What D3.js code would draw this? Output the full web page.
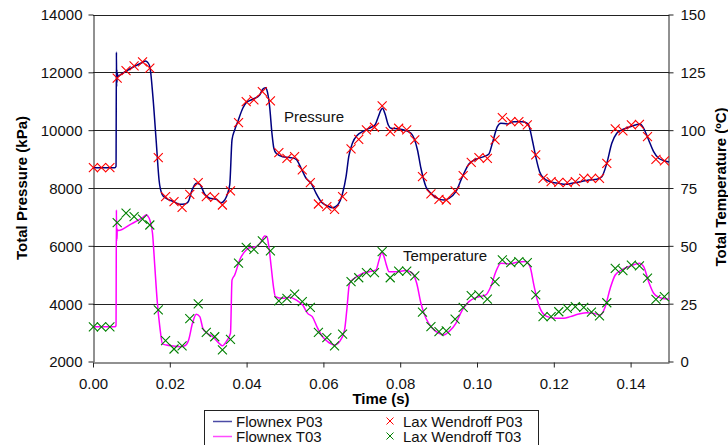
<!DOCTYPE html>
<html>
<head>
<meta charset="utf-8">
<script src="https://cdn.jsdelivr.net/npm/d3@7"></script>
<style>
  body { margin: 0; background: #fff; }
  svg { font-family: "Liberation Sans", Arial, sans-serif; }
</style>
</head>
<body>
<div id="chart"></div>
<script>
// Flownex results, [time (s), value]
var flownexP03 = [[0,8700],[0.0057,8700],[0.0060,8750],[0.0061,12700],[0.00615,11500],[0.0062,12100],[0.00625,11650],[0.0063,12000],[0.0065,11850],[0.0070,11900],[0.0100,12150],[0.0130,12350],[0.0137,12395],[0.0142,12350],[0.0148,12197],[0.0156,11160],[0.0165,9547],[0.0172,8277],[0.0180,7782],[0.0190,7644],[0.0209,7540],[0.0226,7436],[0.0239,7447],[0.0248,7527],[0.0258,7932],[0.0269,8163],[0.0278,8128],[0.0291,7782],[0.0304,7644],[0.0321,7610],[0.0334,7492],[0.0343,7585],[0.0356,8104],[0.0362,9661],[0.0369,10007],[0.0377,10294],[0.0390,10758],[0.0399,10952],[0.0416,11069],[0.0434,11218],[0.0442,11415],[0.0449,11471],[0.0454,11332],[0.0460,10813],[0.0466,9893],[0.0471,9374],[0.0477,9201],[0.0494,9083],[0.0516,9049],[0.0529,8993],[0.0542,8682],[0.0555,8336],[0.0568,8163],[0.0581,7817],[0.0594,7527],[0.0611,7378],[0.0624,7319],[0.0637,7412],[0.0650,7817],[0.0659,8391],[0.0666,9083],[0.0676,9568],[0.0689,9834],[0.0702,9948],[0.0719,10066],[0.0734,10180],[0.0743,10467],[0.0750,10699],[0.0754,10758],[0.0760,10585],[0.0769,10180],[0.0776,10066],[0.0797,10042],[0.0815,9983],[0.0828,9893],[0.0836,9720],[0.0845,9315],[0.0854,8682],[0.0867,8045],[0.0880,7817],[0.0897,7644],[0.0914,7585],[0.0927,7644],[0.0945,7872],[0.0962,8391],[0.0979,8830],[0.0997,8993],[0.1018,9083],[0.1031,9177],[0.1040,9547],[0.1053,10121],[0.1062,10239],[0.1079,10215],[0.1096,10294],[0.1118,10294],[0.1133,10215],[0.1144,9661],[0.1153,9083],[0.1163,8564],[0.1174,8336],[0.1191,8218],[0.1213,8163],[0.1230,8128],[0.1247,8163],[0.1269,8218],[0.1291,8277],[0.1312,8301],[0.1325,8391],[0.1338,8855],[0.1351,9547],[0.1364,9893],[0.1377,10007],[0.1395,10101],[0.1412,10180],[0.1425,10215],[0.1434,10066],[0.1447,9661],[0.1460,9256],[0.1473,9028],[0.1490,8935],[0.1500,8900]];

var flownexT03 = [[0,15],[0.0057,15],[0.0060,15.5],[0.0061,65.5],[0.00615,52],[0.0062,58],[0.00625,53],[0.0063,57],[0.0066,56.6],[0.0100,59.5],[0.0130,62.3],[0.0139,63.4],[0.0143,62.8],[0.0148,61.2],[0.0155,55.4],[0.0161,41],[0.0167,26.6],[0.0174,15],[0.0181,7.6],[0.0191,7.1],[0.0209,6.7],[0.0226,6.4],[0.0239,6.8],[0.0249,9.3],[0.0259,16.5],[0.0269,20.4],[0.0278,19.4],[0.0286,14.4],[0.0295,12.5],[0.0312,10.7],[0.0330,7.6],[0.0337,6.8],[0.0347,8.6],[0.0358,12.2],[0.0362,35.2],[0.0369,37.4],[0.0382,43.9],[0.0399,48.2],[0.0408,49.2],[0.0425,49.6],[0.0438,51.8],[0.0447,54.3],[0.0453,54.0],[0.0458,49.6],[0.0464,41],[0.0470,32.3],[0.0475,28],[0.0494,27.3],[0.0512,27.8],[0.0529,26.6],[0.0546,24.4],[0.0559,20.8],[0.0571,19.4],[0.0585,14.4],[0.0598,10.7],[0.0611,8.6],[0.0620,7.6],[0.0629,7.1],[0.0642,8.6],[0.0655,13.6],[0.0661,22.3],[0.0668,33.8],[0.0681,36],[0.0698,37.8],[0.0719,38.8],[0.0737,39.6],[0.0745,43.9],[0.0752,47.1],[0.0758,45.3],[0.0764,41.7],[0.0771,38.8],[0.0788,38.8],[0.0815,39.3],[0.0832,38.1],[0.0843,33.8],[0.0854,25.2],[0.0867,18.7],[0.0884,14.4],[0.0901,12.2],[0.0914,11.5],[0.0927,12.9],[0.0945,16.5],[0.0962,22.3],[0.0979,25.9],[0.0997,27.6],[0.1005,28],[0.1023,28.8],[0.1036,32.4],[0.1049,38.8],[0.1062,42.5],[0.1083,42.2],[0.1105,42.9],[0.1126,43.2],[0.1138,41],[0.1148,33.1],[0.1157,26.6],[0.1166,22.3],[0.1183,19.4],[0.1205,18.7],[0.1226,18.7],[0.1243,19.4],[0.1265,20.5],[0.1286,21.1],[0.1304,20.8],[0.1321,20.1],[0.1334,23.7],[0.1347,31.7],[0.1360,37.4],[0.1377,39.6],[0.1395,41],[0.1412,42],[0.1423,42.5],[0.1434,41],[0.1447,34.5],[0.1460,29.5],[0.1473,27.8],[0.1494,27],[0.1500,27]];

// Lax Wendroff results
var laxTime = [0.0001,0.0022,0.0044,0.0063,0.0086,0.0107,0.0129,0.0148,0.0170,0.0189,0.0211,0.0232,0.0252,0.0274,0.0295,0.0317,0.0337,0.0358,0.0379,0.0399,0.0419,0.0441,0.0462,0.0484,0.0505,0.0525,0.0545,0.0566,0.0587,0.0609,0.0629,0.0650,0.0672,0.0692,0.0712,0.0733,0.0753,0.0774,0.0796,0.0817,0.0838,0.0858,0.0880,0.0901,0.0920,0.0943,0.0964,0.0985,0.1005,0.1027,0.1047,0.1066,0.1088,0.1109,0.1131,0.1153,0.1172,0.1193,0.1213,0.1235,0.1256,0.1278,0.1298,0.1319,0.1338,0.1360,0.1380,0.1402,0.1423,0.1444,0.1466,0.1488];
var laxP03 = [8703,8703,8703,11796,12059,12222,12360,12142,9049,7699,7526,7333,7782,8184,7699,7678,7412,7897,10260,10986,11045,11332,11010,9222,9028,9083,8624,8184,7447,7353,7263,7699,9350,9685,10007,10101,10838,9948,10066,10007,9661,8391,7793,7609,7585,7897,8426,8890,9049,9028,9661,10433,10294,10294,10180,9142,8336,8218,8198,8184,8218,8336,8336,8336,8855,10042,9973,10180,10204,9775,8993,8935];
var laxT03 = [15,15,15,60,64.1,62.6,61.5,59,22.3,9,5.4,6.8,18.5,24.9,12.6,10.7,5,9.6,42.5,49.3,48.5,52.1,47.8,26.2,27.3,29.1,25.9,23.4,12.6,10.3,6.8,11.8,34.5,36.2,38.4,38.4,47.5,36.2,39.1,39.1,37,21.3,15.1,12.9,13.2,18.3,23.4,28.5,28.8,27,34.5,43.9,42.7,43.2,42.7,28.8,19.4,19.4,21.5,23,23.7,23.4,21.3,19.7,25.4,40.3,39.3,41.7,41.3,36,26.9,28];

var xTicks = [0, 0.02, 0.04, 0.06, 0.08, 0.10, 0.12, 0.14];
var pTicks = [2000, 4000, 6000, 8000, 10000, 12000, 14000];
var tTicks = [0, 25, 50, 75, 100, 125, 150];

var W = 728, H = 445;
var plotL = 93, plotR = 669, plotT = 14.5, plotB = 361.5;

var svg = d3.select("#chart").append("svg")
  .attr("width", W).attr("height", H);

var x = d3.scaleLinear().domain([0, 0.15]).range([plotL, plotR]);
var yP = d3.scaleLinear().domain([2000, 14000]).range([plotB, plotT]);
var yT = d3.scaleLinear().domain([0, 150]).range([plotB, plotT]);

// gridlines
svg.append("g")
  .selectAll("line")
  .data(pTicks.slice(1))
  .enter().append("line")
  .attr("x1", plotL).attr("x2", plotR)
  .attr("y1", d => Math.round(yP(d)) + 0.5)
  .attr("y2", d => Math.round(yP(d)) + 0.5)
  .attr("stroke", "#222").attr("stroke-width", 1);

// axes
var fs = "15px";
var xAxis = svg.append("g")
  .attr("transform", "translate(0," + (Math.round(plotB) + 0.5) + ")")
  .call(d3.axisBottom(x).tickValues(xTicks).tickFormat(d3.format(".2f")).tickSize(5).tickSizeOuter(0));
var lAxis = svg.append("g")
  .attr("transform", "translate(" + (plotL + 0.5) + ",0)")
  .call(d3.axisLeft(yP).tickValues(pTicks).tickFormat(d3.format("d")).tickSize(5).tickSizeOuter(0));
var rAxis = svg.append("g")
  .attr("transform", "translate(" + (plotR - 0.5) + ",0)")
  .call(d3.axisRight(yT).tickValues(tTicks).tickSize(5).tickSizeOuter(0));

[xAxis, lAxis, rAxis].forEach(function(a) {
  a.select(".domain").attr("stroke", "#222");
  a.selectAll(".tick line").attr("stroke", "#222");
  a.selectAll(".tick text")
    .style("font-family", "'Liberation Sans', Arial, sans-serif")
    .style("font-size", fs).attr("fill", "#111");
});
xAxis.selectAll(".tick text").attr("dy", null).attr("y", 26);
lAxis.selectAll(".tick text").attr("x", -11).attr("dy", "0.36em");
rAxis.selectAll(".tick text").attr("x", 12).attr("dy", "0.36em");

// axis titles
svg.append("text")
  .attr("x", 381).attr("y", 404)
  .attr("text-anchor", "middle")
  .style("font-size", "15px").style("font-weight", "bold")
  .text("Time (s)");
svg.append("text")
  .attr("transform", "translate(27,188) rotate(-90)")
  .attr("text-anchor", "middle")
  .style("font-size", "15px").style("font-weight", "bold")
  .text("Total Pressure (kPa)");
svg.append("text")
  .attr("transform", "translate(726,187) rotate(-90)")
  .attr("text-anchor", "middle")
  .style("font-size", "15px").style("font-weight", "bold")
  .text("Total Temperature (ºC)");

// lines
var lineP = d3.line().x(d => x(d[0])).y(d => yP(d[1])).curve(d3.curveMonotoneX);
var lineT = d3.line().x(d => x(d[0])).y(d => yT(d[1])).curve(d3.curveMonotoneX);

svg.append("path").datum(flownexP03)
  .attr("fill", "none").attr("stroke", "#000080").attr("stroke-width", 1.5)
  .attr("d", lineP);
svg.append("path").datum(flownexT03)
  .attr("fill", "none").attr("stroke", "#ff00ff").attr("stroke-width", 1.5)
  .attr("d", lineT);

// x markers
function cross(cx, cy, r) {
  return "M" + (cx - r) + "," + (cy - r) + "L" + (cx + r) + "," + (cy + r) +
         "M" + (cx - r) + "," + (cy + r) + "L" + (cx + r) + "," + (cy - r);
}
svg.append("g").selectAll("path")
  .data(laxTime)
  .enter().append("path")
  .attr("d", (d, i) => cross(x(d), yP(laxP03[i]), 4.5))
  .attr("stroke", "#ff0000").attr("stroke-width", 1.1).attr("fill", "none");
svg.append("g").selectAll("path")
  .data(laxTime)
  .enter().append("path")
  .attr("d", (d, i) => cross(x(d), yT(laxT03[i]), 4.5))
  .attr("stroke", "#008000").attr("stroke-width", 1.1).attr("fill", "none");

// annotations
svg.append("text").attr("x", 284).attr("y", 122)
  .style("font-size", "15px").attr("fill", "#111").text("Pressure");
svg.append("text").attr("x", 403).attr("y", 261)
  .style("font-size", "15px").attr("fill", "#111").text("Temperature");

// legend
var lg = svg.append("g");
lg.append("rect")
  .attr("x", 204.5).attr("y", 410.5).attr("width", 334).attr("height", 40)
  .attr("fill", "#fff").attr("stroke", "#222");
var legendItems = [
  {label: "Flownex P03", type: "line", color: "#000080", lx: 213, ly: 421},
  {label: "Flownex T03", type: "line", color: "#ff00ff", lx: 213, ly: 436},
  {label: "Lax Wendroff P03", type: "x", color: "#ff0000", lx: 390, ly: 421},
  {label: "Lax Wendroff T03", type: "x", color: "#008000", lx: 390, ly: 436}
];
legendItems.forEach(function(d) {
  if (d.type == "line") {
    lg.append("line").attr("x1", d.lx).attr("x2", d.lx + 19)
      .attr("y1", d.ly + 0.5).attr("y2", d.ly + 0.5)
      .attr("stroke", d.color).attr("stroke-width", 1.5).attr("opacity", 0.7);
    lg.append("text").attr("x", d.lx + 23).attr("y", d.ly + 5.5)
      .style("font-size", "15px").attr("fill", "#111").text(d.label);
  } else {
    lg.append("path").attr("d", cross(d.lx, d.ly, 3.5))
      .attr("stroke", d.color).attr("stroke-width", 1).attr("fill", "none");
    lg.append("text").attr("x", d.lx + 13).attr("y", d.ly + 5.5)
      .style("font-size", "15px").attr("fill", "#111").text(d.label);
  }
});
</script>
</body>
</html>
